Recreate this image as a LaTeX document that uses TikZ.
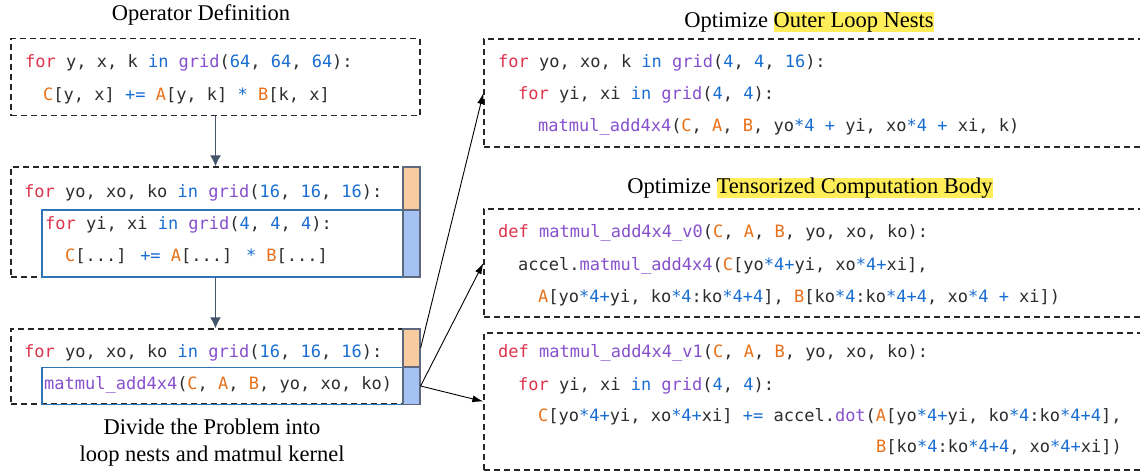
\documentclass[tikz,border=0pt]{standalone}
\usepackage{fontspec}
\setmainfont{Liberation Serif}
\newfontfamily\codefont{DejaVu Sans Mono}
\usetikzlibrary{arrows.meta}
\definecolor{kwred}{RGB}{222,52,78}
\definecolor{numblue}{RGB}{25,110,210}
\definecolor{fnpurple}{RGB}{135,80,205}
\definecolor{varorange}{RGB}{232,112,24}
\definecolor{codegray}{RGB}{45,45,45}
\definecolor{innerblue}{RGB}{46,117,182}
\definecolor{barorange}{RGB}{248,203,160}
\definecolor{barblue}{RGB}{164,194,244}
\definecolor{barline}{RGB}{95,105,125}
\definecolor{slate}{RGB}{68,84,106}
\definecolor{hl}{RGB}{255,238,90}
\newcommand{\kw}[1]{\textcolor{kwred}{#1}}
\newcommand{\bl}[1]{\textcolor{numblue}{#1}}
\newcommand{\fn}[1]{\textcolor{fnpurple}{#1}}
\newcommand{\va}[1]{\textcolor{varorange}{#1}}
\newcommand{\hlt}[1]{{\setlength{\fboxsep}{0pt}\colorbox{hl}{\rule[-0.22em]{0pt}{0.9em}#1}}}
\tikzset{
  codeline/.style={anchor=west, inner sep=0pt, font=\codefont\fontsize{17}{20}\selectfont, text=codegray, text height=12pt, text depth=3.5pt},
  caption/.style={inner sep=0pt, font=\fontsize{22.5}{27}\selectfont, align=center},
  dashbox/.style={draw=black!85, line width=1.3pt, dash pattern=on 6pt off 4pt, inner sep=0pt},
  innerbox/.style={draw=innerblue, line width=1.5pt, inner sep=0pt},
  obar/.style={draw=barline, fill=barorange, line width=1.2pt, inner sep=0pt, minimum width=17pt},
  bbar/.style={draw=barline, fill=barblue, line width=1.2pt, inner sep=0pt, minimum width=17pt},
  downarrow/.style={draw=slate, line width=1.3pt, -{Latex[length=11pt,width=11pt]}},
  fanarrow/.style={draw=black, line width=0.9pt, -{Latex[length=11pt,width=7pt]}}
}
\begin{document}
\begin{tikzpicture}[x=1pt,y=-1pt]
\useasboundingbox (0,0) rectangle (1140,474);
\clip (0,0) rectangle (1140,474);
\fill[white] (0,0) rectangle (1140,474);

% titles and caption
\node[caption] (t0) at (201,15) {Operator Definition};
\node[caption] (t1) at (809,22) {Optimize \hlt{Outer Loop Nests}};
\node[caption] (t2) at (810,188) {Optimize \hlt{Tensorized Computation Body}};
\node[caption] (cap) at (212,443) {Divide the Problem into\\loop nests and matmul kernel};

% left boxes
\node[dashbox, minimum width=409pt, minimum height=77pt] (box1) at (215.5,77) {};
\node[dashbox, minimum width=409pt, minimum height=110pt] (box2) at (215.5,222) {};
\node[innerbox, minimum width=361pt, minimum height=67pt] (in2) at (222.5,243.5) {};
\node[obar, minimum height=43pt] (o2) at (411.5,188.5) {};
\node[bbar, minimum height=67pt] (b2) at (411.5,243.5) {};

\node[dashbox, minimum width=409pt, minimum height=75pt] (box3) at (215.5,366.5) {};
\node[innerbox, minimum width=361pt, minimum height=37pt] (in3) at (222.5,386) {};
\node[obar, minimum height=38pt] (o3) at (411.5,348) {};
\node[bbar, minimum height=37pt] (b3) at (411.5,386) {};

% right boxes
\node[dashbox, minimum width=661pt, minimum height=108pt] (r1) at (814.5,93) {};
\node[dashbox, minimum width=661pt, minimum height=108pt] (r2) at (814.5,263) {};
\node[dashbox, minimum width=661pt, minimum height=137pt] (r3) at (814.5,401.5) {};

% code: box 1
\node[codeline] (b1a) at (25,63) {\kw{for} y, x, k \bl{in} \fn{grid}(\bl{64}, \bl{64}, \bl{64}):};
\node[codeline] (b1b) at (43,96) {\va{C}[y, x] \bl{+=} \va{A}[y, k] \bl{*} \va{B}[k, x]};
% code: box 2
\node[codeline] (b2a) at (24,193) {\kw{for} yo, xo, ko \bl{in} \fn{grid}(\bl{16}, \bl{16}, \bl{16}):};
\node[codeline] (b2b) at (45,225) {\kw{for} yi, xi \bl{in} \fn{grid}(\bl{4}, \bl{4}, \bl{4}):};
\node[codeline] (b2c) at (65,257) {\va{C}[...] \bl{+=} \va{A}[...] \bl{*} \va{B}[...]};
% code: box 3
\node[codeline] (b3a) at (24,353) {\kw{for} yo, xo, ko \bl{in} \fn{grid}(\bl{16}, \bl{16}, \bl{16}):};
\node[codeline] (b3b) at (44,385) {\fn{matmul\_add4x4}(\va{C}, \va{A}, \va{B}, yo, xo, ko)};

% code: right box 1
\node[codeline] (r1a) at (498,63) {\kw{for} yo, xo, k \bl{in} \fn{grid}(\bl{4}, \bl{4}, \bl{16}):};
\node[codeline] (r1b) at (518,95) {\kw{for} yi, xi \bl{in} \fn{grid}(\bl{4}, \bl{4}):};
\node[codeline] (r1c) at (538,127) {\fn{matmul\_add4x4}(\va{C}, \va{A}, \va{B}, yo\bl{*4} \bl{+} yi, xo\bl{*4} \bl{+} xi, k)};
% code: right box 2
\node[codeline] (r2a) at (498,233) {\kw{def} \fn{matmul\_add4x4\_v0}(\va{C}, \va{A}, \va{B}, yo, xo, ko):};
\node[codeline] (r2b) at (518,266) {accel.\fn{matmul\_add4x4}(\va{C}[yo\bl{*4+}yi, xo\bl{*4+}xi],};
\node[codeline] (r2c) at (538,298) {\va{A}[yo\bl{*4+}yi, ko\bl{*4}:ko\bl{*4+4}], \va{B}[ko\bl{*4}:ko\bl{*4+4}, xo\bl{*4} \bl{+} xi])};
% code: right box 3
\node[codeline] (r3a) at (498,353) {\kw{def} \fn{matmul\_add4x4\_v1}(\va{C}, \va{A}, \va{B}, yo, xo, ko):};
\node[codeline] (r3b) at (518,386) {\kw{for} yi, xi \bl{in} \fn{grid}(\bl{4}, \bl{4}):};
\node[codeline] (r3c) at (538,417) {\va{C}[yo\bl{*4+}yi, xo\bl{*4+}xi] \bl{+=} accel.\fn{dot}(\va{A}[yo\bl{*4+}yi, ko\bl{*4}:ko\bl{*4+4}],};
\node[codeline] (r3d) at (876,448) {\va{B}[ko\bl{*4}:ko\bl{*4+4}, xo\bl{*4+}xi])};

% connectors
\draw[downarrow] (box1.south) -- (box2.north);
\draw[downarrow] (box2.south) -- (box3.north);
\draw[fanarrow] (o3.east) -- (r1.west);
\draw[fanarrow] (b3.east) -- (r2.west);
\draw[fanarrow] (b3.east) -- (r3.west);
\end{tikzpicture}
\end{document}
